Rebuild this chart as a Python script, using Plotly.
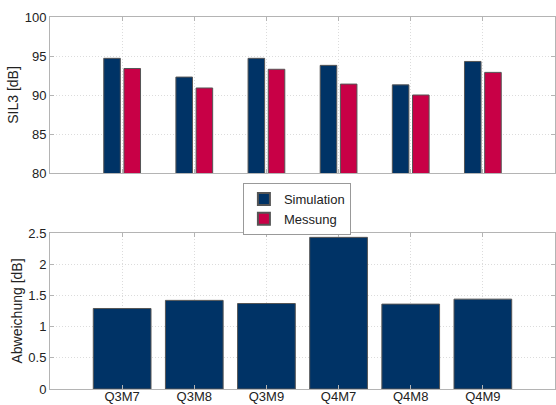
import plotly.graph_objects as go

# Measurement configurations
categories = ["Q3M7", "Q3M8", "Q3M9", "Q4M7", "Q4M8", "Q4M9"]
positions = [1, 2, 3, 4, 5, 6]

# SIL3 levels in dB
sil3_simulation = [94.7, 92.3, 94.7, 93.8, 91.3, 94.3]
sil3_messung = [93.4, 90.9, 93.3, 91.4, 90.0, 92.9]

# Deviation between simulation and measurement in dB
abweichung = [1.29, 1.42, 1.37, 2.43, 1.36, 1.44]

NAVY = "#003366"
CRIMSON = "#C80046"
EDGE = "#555555"
AXIS = "#b4b4b4"
GRID = "#dcdcdc"
FONT = dict(family="Liberation Sans, Arial, sans-serif", size=13, color="#222222")
TITLE_FONT = dict(family="Liberation Sans, Arial, sans-serif", size=14, color="#222222")

fig = go.Figure()

# grouped bars: SIL3 per configuration
fig.add_trace(go.Bar(
    x=positions, y=sil3_simulation, name="Simulation",
    marker=dict(color=NAVY, line=dict(color=EDGE, width=1)),
    xaxis="x", yaxis="y", offsetgroup="sim",
))
fig.add_trace(go.Bar(
    x=positions, y=sil3_messung, name="Messung",
    marker=dict(color=CRIMSON, line=dict(color=EDGE, width=1)),
    xaxis="x", yaxis="y", offsetgroup="mes",
))

# deviation bars
fig.add_trace(go.Bar(
    x=positions, y=abweichung, name="Abweichung", showlegend=False,
    marker=dict(color=NAVY, line=dict(color=EDGE, width=1)),
    width=0.8, xaxis="x2", yaxis="y2",
))

axis_common = dict(
    showline=True, linecolor=AXIS, linewidth=1, mirror="ticks",
    ticks="inside", ticklen=4, tickcolor=AXIS,
    showgrid=True, gridcolor=GRID, griddash="1px,2px", gridwidth=1,
    zeroline=False, tickfont=FONT, automargin=False,
)

fig.update_layout(
    width=556, height=405,
    margin=dict(l=50, r=1, t=17, b=16),
    paper_bgcolor="white", plot_bgcolor="white",
    font=FONT,
    barmode="group", bargap=0.44, bargroupgap=0.18,
    xaxis=dict(axis_common, range=[0, 7], tickvals=positions, showticklabels=False,
               domain=[0, 1], anchor="y"),
    yaxis=dict(axis_common, range=[80, 100], dtick=5, domain=[0.5806, 1], anchor="x",
               title=dict(text="SIL3 [dB]", font=TITLE_FONT, standoff=2)),
    xaxis2=dict(axis_common, range=[0, 7], tickvals=positions, ticktext=categories,
                domain=[0, 1], anchor="y2", ticklabelstandoff=-5),
    yaxis2=dict(axis_common, range=[0, 2.5], dtick=0.5, domain=[0, 0.4194], anchor="x2",
                title=dict(text="Abweichung [dB]", font=TITLE_FONT, standoff=2)),
    legend=dict(
        x=0.382, y=0.5538, xanchor="left", yanchor="top",
        bordercolor="#999999", borderwidth=1, bgcolor="white",
        font=FONT, tracegroupgap=0, itemsizing="constant", itemwidth=30,
    ),
)

fig.write_html("out.html")
